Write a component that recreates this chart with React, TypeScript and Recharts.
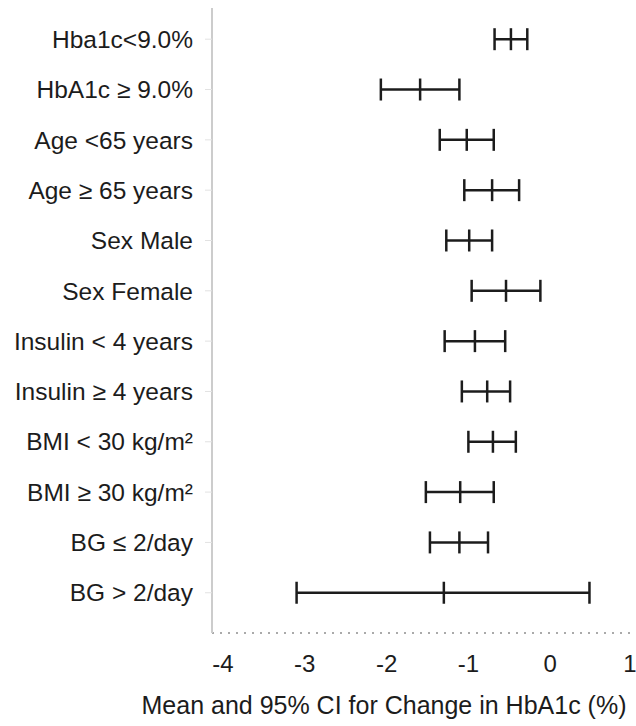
import { ScatterChart, Scatter, XAxis, YAxis, ErrorBar } from 'recharts';

const subgroups = [
    'Hba1c<9.0%',
    'HbA1c ≥ 9.0%',
    'Age <65 years',
    'Age ≥ 65 years',
    'Sex Male',
    'Sex Female',
    'Insulin < 4 years',
    'Insulin ≥ 4 years',
    'BMI < 30 kg/m²',
    'BMI ≥ 30 kg/m²',
    'BG ≤ 2/day',
    'BG > 2/day',
];

const means = [-0.48, -1.59, -1.02, -0.71, -0.99, -0.54, -0.92, -0.77, -0.70, -1.10, -1.11, -1.30];
const lowerCI = [-0.68, -2.07, -1.35, -1.05, -1.27, -0.96, -1.29, -1.08, -1.00, -1.52, -1.47, -3.10];
const upperCI = [-0.28, -1.11, -0.69, -0.38, -0.71, -0.12, -0.55, -0.49, -0.42, -0.69, -0.76, 0.48];

const xTicks = [-4, -3, -2, -1, 0, 1];

const data = subgroups.map((name, i) => ({
    row: i,
    name,
    mean: means[i],
    err: [means[i] - lowerCI[i], upperCI[i] - means[i]],
}));

const FONT = '"Liberation Sans", Arial, sans-serif';
const INK = '#1c1c1c';

// vertical tick for the point estimate
const MeanTick = (props: any) => {
    const { cx, cy } = props;
    return <line x1={cx} x2={cx} y1={cy - 11} y2={cy + 11} stroke={INK} strokeWidth={2.5} />;
};

export default function App() {
    return (
        <div style={{ position: 'absolute', left: 0, top: 0, background: '#fff' }}>
            <ScatterChart width={636} height={726} margin={{ top: 8, right: 4, bottom: 0, left: 0 }}>
                <XAxis
                    type="number"
                    dataKey="mean"
                    domain={[-4.134, 1]}
                    ticks={xTicks}
                    allowDataOverflow
                    height={93}
                    tickLine={false}
                    tickSize={0}
                    tickMargin={22}
                    axisLine={{ stroke: '#aaa', strokeWidth: 2, strokeDasharray: '2 6' }}
                    tick={{ fontSize: 24, fill: INK, fontFamily: FONT }}
                    label={{
                        value: 'Mean and 95% CI for Change in HbA1c (%)',
                        position: 'insideBottom',
                        offset: 12,
                        dx: -38,
                        style: { fontSize: 25, fill: INK, fontFamily: FONT },
                    }}
                />
                <YAxis
                    type="number"
                    dataKey="row"
                    domain={[-0.62, 11.8]}
                    ticks={subgroups.map((_, i) => i)}
                    reversed
                    width={212}
                    tickSize={7}
                    tickMargin={12}
                    tickFormatter={(v: number) => subgroups[v] ?? ''}
                    axisLine={{ stroke: '#ccc', strokeWidth: 2 }}
                    tickLine={{ stroke: '#e2e2e2' }}
                    tick={{ fontSize: 24.5, fill: INK, fontFamily: FONT }}
                />
                <Scatter data={data} shape={MeanTick} isAnimationActive={false}>
                    <ErrorBar
                        dataKey="err"
                        direction="x"
                        width={11}
                        stroke={INK}
                        strokeWidth={2.5}
                        isAnimationActive={false}
                    />
                </Scatter>
            </ScatterChart>
        </div>
    );
}
